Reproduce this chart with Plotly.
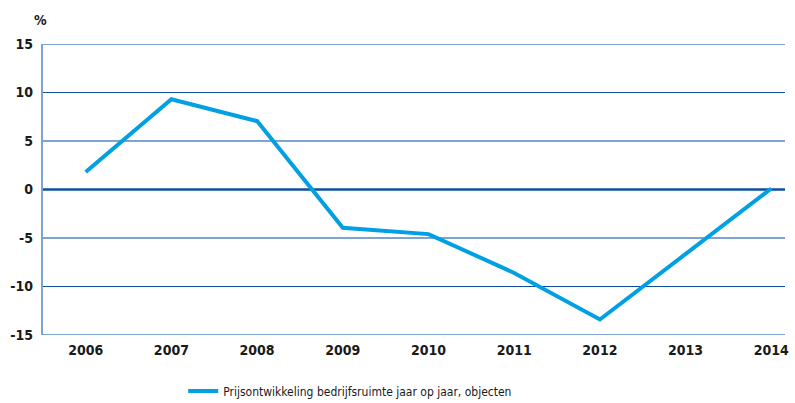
import plotly.graph_objects as go

years = [2006, 2007, 2008, 2009, 2010, 2011, 2012, 2013, 2014]
price_change = [1.8, 9.3, 7.05, -3.95, -4.6, -8.6, -13.4, -6.65, 0.1]
series_name = "Prijsontwikkeling bedrijfsruimte jaar op jaar, objecten"

y_ticks = [15, 10, 5, 0, -5, -10, -15]
y_tick_labels = ["15", "10", "5", "0", "-5", "-10", "-15"]

FONT = "DejaVu Sans Condensed, Liberation Sans Narrow, sans-serif"
LIGHT = "#7da3d0"
DARK = "#0c4f9f"
TEXT = "#1a1a1a"

fig = go.Figure()

fig.add_trace(go.Scatter(
    x=years, y=price_change, mode="lines", name=series_name,
    line=dict(color="#00a0e3", width=4),
))

# alternating horizontal gridlines
shapes = []
for v in y_ticks:
    if v == 0:
        color, width = DARK, 2.5
    elif v % 10 == 0:
        color, width = DARK, 1.2
    else:
        color, width = LIGHT, 2
    shapes.append(dict(type="line", xref="paper", x0=0, x1=1, yref="y", y0=v, y1=v,
                       line=dict(color=color, width=width), layer="below"))
shapes.append(dict(type="line", xref="paper", x0=0, x1=0, yref="y", y0=-15, y1=15,
                   line=dict(color=LIGHT, width=2), layer="below"))

tick_font = dict(family=FONT, size=14, color=TEXT, weight="bold")

fig.update_layout(
    width=795, height=403,
    margin=dict(l=42, r=10, t=44, b=68, autoexpand=False),
    paper_bgcolor="white", plot_bgcolor="white",
    font=dict(family=FONT, size=14, color=TEXT),
    shapes=shapes,
    xaxis=dict(range=[2005.49, 2014.16], tickvals=years, ticktext=[str(y) for y in years],
               showgrid=False, zeroline=False, showline=False, ticks="",
               ticklabelstandoff=5, tickfont=tick_font),
    yaxis=dict(range=[-15, 15], tickvals=y_ticks, ticktext=y_tick_labels,
               showgrid=False, zeroline=False, showline=False, ticks="",
               ticklabelstandoff=8, tickfont=tick_font),
    showlegend=True,
    legend=dict(orientation="h", x=0.19, xanchor="left",
                yref="container", y=0.03, yanchor="middle",
                itemwidth=30,
                font=dict(family=FONT, size=12, color=TEXT),
                bgcolor="rgba(0,0,0,0)"),
    annotations=[dict(text="%", xref="paper", yref="paper", x=0, y=1, xanchor="center",
                      yanchor="bottom", yshift=14, xshift=-2, showarrow=False,
                      font=tick_font)],
)

fig.write_html("out.html")
